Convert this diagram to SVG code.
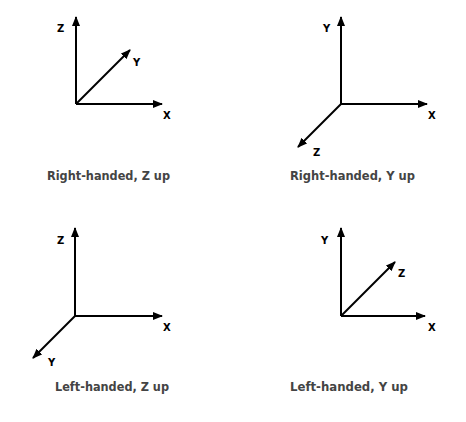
<svg xmlns="http://www.w3.org/2000/svg" width="466" height="422" viewBox="0 0 466 422">
<defs>
<marker id="ah" viewBox="0 0 10 8" refX="9" refY="4" markerWidth="10" markerHeight="8" markerUnits="userSpaceOnUse" orient="auto">
<path d="M0,0 L10,4 L0,8 Z" fill="#000"/>
</marker>
<style>
.ax{stroke:#000;stroke-width:2;fill:none;marker-end:url(#ah)}
.lb{font-family:"DejaVu Sans",Verdana,sans-serif;font-weight:bold;font-size:10px;fill:#000}
.cap{font-family:"DejaVu Sans",Verdana,sans-serif;font-weight:bold;font-size:12px;fill:#444}
</style>
</defs>
<rect width="466" height="422" fill="#fff"/>
<g id="connectors">
<line class="ax" x1="76" y1="104" x2="76" y2="17"/>
<line class="ax" x1="76" y1="104" x2="162" y2="104"/>
<line class="ax" x1="76" y1="104" x2="130" y2="50"/>
<line class="ax" x1="341" y1="104" x2="341" y2="17"/>
<line class="ax" x1="341" y1="104" x2="427" y2="104"/>
<line class="ax" x1="341" y1="104" x2="298" y2="147"/>
<line class="ax" x1="75" y1="316" x2="75" y2="228"/>
<line class="ax" x1="75" y1="316" x2="162" y2="316"/>
<line class="ax" x1="75" y1="316" x2="33" y2="358"/>
<line class="ax" x1="341" y1="316" x2="341" y2="228"/>
<line class="ax" x1="341" y1="316" x2="425" y2="316"/>
<line class="ax" x1="341" y1="316" x2="395" y2="262"/>
</g>
<g id="rh-z-up">
<text class="lb" x="57" y="32">Z</text>
<text class="lb" x="133" y="66">Y</text>
<text class="lb" x="163" y="119">X</text>
<text class="cap" x="47" y="180" textLength="123" lengthAdjust="spacingAndGlyphs">Right-handed, Z up</text>
</g>
<g id="rh-y-up">
<text class="lb" x="323" y="32">Y</text>
<text class="lb" x="428" y="119">X</text>
<text class="lb" x="313" y="156">Z</text>
<text class="cap" x="290" y="180" textLength="125" lengthAdjust="spacingAndGlyphs">Right-handed, Y up</text>
</g>
<g id="lh-z-up">
<text class="lb" x="57" y="244">Z</text>
<text class="lb" x="163" y="331">X</text>
<text class="lb" x="48" y="366">Y</text>
<text class="cap" x="55" y="391" textLength="114" lengthAdjust="spacingAndGlyphs">Left-handed, Z up</text>
</g>
<g id="lh-y-up">
<text class="lb" x="321" y="244">Y</text>
<text class="lb" x="398" y="277">Z</text>
<text class="lb" x="428" y="331">X</text>
<text class="cap" x="290" y="391" textLength="118" lengthAdjust="spacingAndGlyphs">Left-handed, Y up</text>
</g>
</svg>
